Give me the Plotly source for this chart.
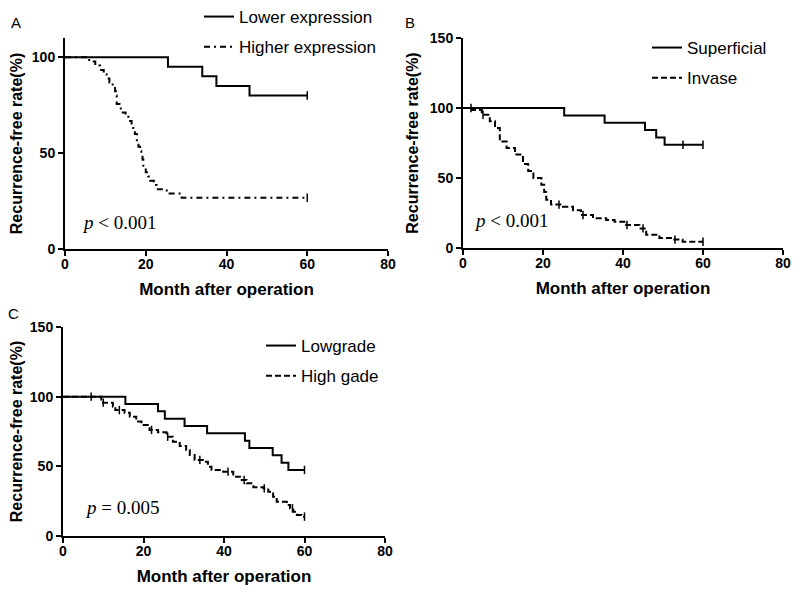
import numpy as np
import plotly.graph_objects as go

# ---------------- Data ----------------
# Panel A
a_low_t = [0, 25.5, 34, 37.5, 45.7, 60]
a_low_s = [100, 95, 90, 85, 80, 80]
a_low_cens = [60]

a_high_t = [0, 6, 7.5, 8.7, 9.6, 10.3, 11, 11.8, 12.4, 12.6, 12.8, 13.5, 14.3, 15, 15.7,
            16.5, 16.9, 17.3, 17.8, 18.2, 18.6, 18.9, 19.2, 19.4, 20, 20.6, 21.1, 22,
            22.7, 25.2, 28.9, 60]
a_high_s = [100, 97.8, 95.6, 93.3, 91.1, 88.9, 86.7, 84.4, 82.2, 80, 75.6, 73.3, 71.1, 68.9,
            66.7, 64.4, 62.2, 60, 55.6, 53.3, 51.1, 48.9, 46.7, 42.2, 40, 37.8, 35.6, 33.3,
            31.1, 28.9, 26.7, 26.7]
a_high_cens = [60]

# Panel B
b_sup_t = [0, 25.3, 35.4, 45.5, 48.3, 50.4, 60]
b_sup_s = [100, 94.7, 89.5, 84.2, 78.9, 73.7, 73.7]
b_sup_cens = [55, 60]

b_inv_t = [0, 2.2, 4.7, 6.7, 8, 9.2, 10.9, 13, 15, 16.3, 17.6, 19.6, 20.3, 20.8, 22, 25,
           27.5, 29.5, 32.5, 35.8, 37.9, 40.8, 44.1, 45.8, 49.1, 52.4, 54.9, 60]
b_inv_s = [100, 98.6, 95.2, 90.5, 85.7, 76, 71.4, 66.7, 60, 55, 50, 45.2, 40, 34.5, 31, 29.5,
           27, 23.6, 21.2, 20, 18.8, 16.4, 14, 9.5, 7.1, 6, 4.5, 4.5]
b_inv_cens = [2, 5, 24, 30, 41, 45, 53, 60]

# Panel C
c_low_t = [0, 15.5, 23.6, 25.3, 30.2, 35.8, 45.2, 46.3, 52.1, 54.3, 56, 60]
c_low_s = [100, 94.7, 89.5, 84.2, 78.9, 73.7, 68.4, 63.2, 57.9, 52.6, 47.4, 47.4]
c_low_cens = [60]

c_high_t = [0, 9.5, 12.4, 13, 15.3, 16.6, 18.2, 19.5, 21.5, 23.6, 25.7, 27.3, 29, 30.6, 31.5,
            32.7, 34.8, 36, 36.9, 39.8, 42.3, 44, 45.6, 47.3, 49.8, 51, 52.2, 53.1, 55.6,
            56.4, 57.2, 58.1, 59.3, 60]
c_high_s = [100, 95.7, 92.8, 90.4, 88.5, 85.6, 82.1, 79.7, 76.1, 74.4, 71.3, 67.7, 64.6, 61.7,
            58.1, 54.6, 53.3, 49.7, 47.4, 46.2, 42.6, 40.2, 37.8, 35, 34.2, 31.8, 28.2, 24.6,
            22.3, 19.9, 17.4, 15.1, 13.9, 13.9]
c_high_cens = [7, 10, 14, 22, 26, 34, 41, 45, 50, 57, 60]

x_ticks = [0, 20, 40, 60, 80]

# ---------------- Figure ----------------
SANS = "Liberation Sans, Arial, sans-serif"
SERIF = "Liberation Serif, Times New Roman, serif"

# page body has an 8px default margin: size the figure to fit exactly in the window
OFF = 8
W, H = 800 - 2 * OFF, 595 - 2 * OFF


def px_x(p):  # screen px -> paper fraction
    return (p - OFF) / W


def px_y(p):
    return 1 - (p - OFF) / H


fig = go.Figure()


def step_value(t, s, x):
    t = np.asarray(t)
    s = np.asarray(s)
    idx = np.searchsorted(t, x, side="right") - 1
    return s[np.clip(idx, 0, len(s) - 1)]


def add_curve(t, s, cens, name, dash, xa, ya, legend, group):
    fig.add_trace(go.Scatter(
        x=t, y=s, mode="lines", line=dict(color="black", width=2, dash=dash, shape="hv"),
        name=name, xaxis=xa, yaxis=ya, legend=legend, legendgroup=group,
    ))
    fig.add_trace(go.Scatter(
        x=cens, y=step_value(t, s, cens), mode="markers",
        marker=dict(symbol="line-ns", size=6, line=dict(color="black", width=1.5)),
        showlegend=False, xaxis=xa, yaxis=ya, hoverinfo="skip",
    ))


add_curve(a_low_t, a_low_s, a_low_cens, "Lower expression", "solid", "x", "y", "legend", "a1")
add_curve(a_high_t, a_high_s, a_high_cens, "Higher expression", "6px,4px,2px,4px", "x", "y", "legend", "a2")
add_curve(b_sup_t, b_sup_s, b_sup_cens, "Superficial", "solid", "x2", "y2", "legend2", "b1")
add_curve(b_inv_t, b_inv_s, b_inv_cens, "Invase", "6px,3px", "x2", "y2", "legend2", "b2")
add_curve(c_low_t, c_low_s, c_low_cens, "Lowgrade", "solid", "x3", "y3", "legend3", "c1")
add_curve(c_high_t, c_high_s, c_high_cens, "High gade", "6px,3px", "x3", "y3", "legend3", "c2")

axis_common = dict(
    showline=True, linewidth=2, linecolor="black", ticks="outside", ticklen=5,
    tickwidth=2, tickcolor="black", showgrid=False, zeroline=False, automargin=False,
    tickfont=dict(family=SANS, size=14, color="black", weight="bold"),
    title_font=dict(family=SANS, size=17, color="black", weight="bold"),
)
yaxis_font = dict(family=SANS, size=16, color="black", weight="bold")

xt = dict(tickvals=x_ticks, range=[0, 80], ticklabelstandoff=-4,
          title=dict(text="Month after operation", standoff=12))
yt_title = dict(text="Recurrence-free rate(%)", standoff=7, font=yaxis_font)

fig.update_layout(
    width=W, height=H, margin=dict(l=0, r=0, t=0, b=0, autoexpand=False),
    paper_bgcolor="white", plot_bgcolor="white",
    xaxis=dict(**axis_common, **xt, domain=[px_x(65), px_x(388)], anchor="y"),
    yaxis=dict(**axis_common, range=[0, 110], tickvals=[0, 50, 100], title=yt_title,
               domain=[px_y(249), px_y(38)], anchor="x"),
    xaxis2=dict(**axis_common, **xt, domain=[px_x(463), px_x(783)], anchor="y2"),
    yaxis2=dict(**axis_common, range=[0, 150], tickvals=[0, 50, 100, 150], title=yt_title,
                domain=[px_y(248), px_y(38)], anchor="x2"),
    xaxis3=dict(**axis_common, **xt, domain=[px_x(63), px_x(385)], anchor="y3"),
    yaxis3=dict(**axis_common, range=[0, 150], tickvals=[0, 50, 100, 150], title=yt_title,
                domain=[px_y(536), px_y(327)], anchor="x3"),
)

leg_common = dict(font=dict(family=SANS, size=17, color="black"), bgcolor="rgba(0,0,0,0)",
                  itemwidth=30, tracegroupgap=5, xanchor="left", yanchor="top")
fig.update_layout(
    legend=dict(**leg_common, x=px_x(199), y=px_y(-1)),
    legend2=dict(**leg_common, x=px_x(647), y=px_y(30)),
    legend3=dict(**leg_common, x=px_x(261), y=px_y(328)),
)

panel_font = dict(family=SANS, size=15, color="black")
p_font = dict(family=SERIF, size=19, color="black")
ann = [
    dict(text="A", x=px_x(16), y=px_y(23)),
    dict(text="B", x=px_x(410), y=px_y(22)),
    dict(text="C", x=px_x(13), y=px_y(313)),
]
for a in ann:
    fig.add_annotation(xref="paper", yref="paper", showarrow=False, font=panel_font,
                       xanchor="center", yanchor="middle", **a)

pvals = [
    dict(text="<i>p</i> &lt; 0.001", x=px_x(80), y=px_y(222)),
    dict(text="<i>p</i> &lt; 0.001", x=px_x(472), y=px_y(220)),
    dict(text="<i>p</i> = 0.005", x=px_x(83), y=px_y(507)),
]
for a in pvals:
    fig.add_annotation(xref="paper", yref="paper", showarrow=False, font=p_font,
                       xanchor="left", yanchor="middle", **a)

fig.write_html("out.html")
